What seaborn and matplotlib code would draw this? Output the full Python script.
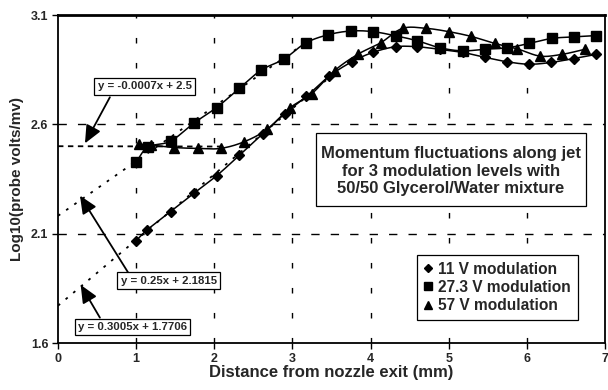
import numpy as np
import pandas as pd
import matplotlib
matplotlib.use("Agg")
import matplotlib.pyplot as plt
from matplotlib.patches import Rectangle
import seaborn as sns

# ---- data ----
x_11 = [1.00, 1.14, 1.44, 1.74, 2.03, 2.32, 2.62, 2.90, 3.18, 3.47, 3.76, 4.03,
        4.32, 4.59, 4.89, 5.18, 5.47, 5.75, 6.03, 6.31, 6.60, 6.89]
y_11 = [2.068, 2.117, 2.201, 2.285, 2.365, 2.458, 2.557, 2.648, 2.728, 2.820, 2.886, 2.929,
        2.955, 2.955, 2.943, 2.929, 2.906, 2.886, 2.875, 2.883, 2.901, 2.920]

x_27 = [1.00, 1.15, 1.44, 1.74, 2.03, 2.32, 2.60, 2.89, 3.17, 3.46, 3.75, 4.03,
        4.32, 4.60, 4.89, 5.18, 5.47, 5.75, 6.03, 6.32, 6.60, 6.89]
y_27 = [2.427, 2.496, 2.523, 2.606, 2.677, 2.764, 2.848, 2.898, 2.972, 3.010, 3.027, 3.024,
        3.005, 2.982, 2.950, 2.936, 2.944, 2.950, 2.970, 2.993, 3.000, 3.006]

x_57 = [1.04, 1.19, 1.49, 1.79, 2.08, 2.38, 2.68, 2.97, 3.25, 3.54, 3.84, 4.13,
        4.41, 4.71, 5.00, 5.29, 5.59, 5.88, 6.17, 6.45, 6.74]
y_57 = [2.510, 2.505, 2.494, 2.490, 2.490, 2.520, 2.578, 2.676, 2.741, 2.846, 2.921, 2.973,
        3.039, 3.039, 3.024, 3.002, 2.970, 2.945, 2.912, 2.920, 2.943]

labels = ["11 V modulation", "27.3 V modulation", "57 V modulation"]

# trendlines (slope, intercept, x-range)
trend_11 = (0.3005, 1.7706, 0.0, 3.47)
trend_27 = (0.25, 2.1815, 0.0, 3.17)
trend_57 = (-0.0007, 2.5, 0.0, 2.08)
trend_texts = ["y = 0.3005x + 1.7706", "y = 0.25x + 2.1815", "y = -0.0007x + 2.5"]

title_text = "Momentum fluctuations along jet\nfor 3 modulation levels with\n50/50 Glycerol/Water mixture"
xlabel = "Distance from nozzle exit (mm)"
ylabel = "Log10(probe volts/mv)"
xticks = [0, 1, 2, 3, 4, 5, 6, 7]
yticks = [1.6, 2.1, 2.6, 3.1]


def smooth(xs, ys, n=20):
    """Catmull-Rom rendering of a smoothed line through the points."""
    p = np.column_stack([xs, ys]).astype(float)
    p = np.vstack([p[0] * 2 - p[1], p, p[-1] * 2 - p[-2]])
    out = []
    t = np.linspace(0, 1, n, endpoint=False)[:, None]
    for i in range(1, len(p) - 2):
        p0, p1, p2, p3 = p[i - 1], p[i], p[i + 1], p[i + 2]
        c = 0.5 * ((2 * p1) + (-p0 + p2) * t + (2 * p0 - 5 * p1 + 4 * p2 - p3) * t ** 2
                   + (-p0 + 3 * p1 - 3 * p2 + p3) * t ** 3)
        out.append(c)
    out.append(p[-2][None, :])
    out = np.vstack(out)
    return out[:, 0], out[:, 1]


sns.set_theme(style="white")
plt.rcParams["font.family"] = ["Liberation Sans", "DejaVu Sans"]
plt.rcParams["font.weight"] = "bold"

fig = plt.figure(figsize=(6.08, 3.90), dpi=100)
ax = fig.add_axes([0.0954, 0.1205, 0.8996, 0.841])

series = [(x_11, y_11, "D", 5.0, labels[0]),
          (x_27, y_27, "s", 7.0, labels[1]),
          (x_57, y_57, "^", 7.5, labels[2])]

# trend lines
for (m, b, x0, x1), ls in [(trend_11, (0, (1.5, 4))), (trend_27, (0, (1.5, 4))), (trend_57, (0, (3, 2.5)))]:
    xx = np.array([x0, x1])
    sns.lineplot(x=xx, y=m * xx + b, ax=ax, color="black", lw=1.3, linestyle=ls,
                 estimator=None, sort=False, legend=False)

handles = []
for xs, ys, mk, ms, lab in series:
    sx, sy = smooth(xs, ys)
    sns.lineplot(x=sx, y=sy, ax=ax, color="black", lw=1.1, estimator=None, sort=False, legend=False)
    ax.plot(xs, ys, linestyle="none", marker=mk, markersize=ms, color="black")
    handles.append(plt.Line2D([], [], linestyle="none", marker=mk, markersize=ms * 0.8, color="black"))

ax.set_xlim(0, 7)
ax.set_ylim(1.6, 3.1)
ax.set_xticks(xticks)
ax.set_yticks(yticks)
ax.set_xticklabels([str(v) for v in xticks], fontsize=9, fontweight="bold")
ax.set_yticklabels([f"{v:.1f}" for v in yticks], fontsize=9, fontweight="bold")
ax.tick_params(axis="both", direction="out", length=4, width=1, color="black", pad=3, bottom=True, left=True)
ax.set_xlabel(xlabel, fontsize=12, fontweight="bold", labelpad=0)
ax.set_ylabel(ylabel, fontsize=11, fontweight="bold", labelpad=5)

# grid
for gx in range(1, 7):
    ax.axvline(gx, color="black", lw=1, linestyle=(0, (4, 14)), zorder=0)
for gy in [2.1, 2.6]:
    ax.axhline(gy, color="black", lw=1, linestyle=(0, (6, 8)), zorder=0)

for s in ax.spines.values():
    s.set_color("black")
    s.set_linewidth(1.3)
ax.spines["top"].set_linewidth(2)

box = dict(boxstyle="square,pad=0.3", fc="white", ec="black", lw=0.9)
arrow = dict(arrowstyle="-|>,head_length=0.9,head_width=0.4", color="black", lw=1.3,
             shrinkA=0, shrinkB=0)
# (text centre, arrow tail, arrow head)
notes = [(trend_texts[2], (1.11, 2.774), (0.664, 2.724), (0.345, 2.513)),
         (trend_texts[1], (1.418, 1.884), (0.898, 1.922), (0.281, 2.274)),
         (trend_texts[0], (0.954, 1.673), (0.536, 1.716), (0.290, 1.866))]
for txt, c, tail, head in notes:
    ax.annotate("", xy=head, xytext=tail, arrowprops=arrow, zorder=5)
    ax.text(c[0], c[1], txt, fontsize=8.2, fontweight="bold", ha="center", va="center",
            bbox=box, zorder=6)

# title box
ax.add_patch(Rectangle((3.308, 2.228), 3.448, 0.331, fc="white", ec="black", lw=0.9, zorder=6))
ax.text(5.03, 2.386, title_text, fontsize=12, fontweight="bold", ha="center", va="center",
        linespacing=1.22, zorder=7)

leg = ax.legend(handles, labels, loc="lower right", bbox_to_anchor=(0.951, 0.070),
                borderaxespad=0, frameon=True, fancybox=False, framealpha=1, edgecolor="black",
                prop={"weight": "bold", "size": 11.2}, handlelength=0.6, handletextpad=0.35,
                labelspacing=0.2, borderpad=0.45)
leg.get_frame().set_linewidth(0.9)

fig.savefig("out.png", dpi=100)
